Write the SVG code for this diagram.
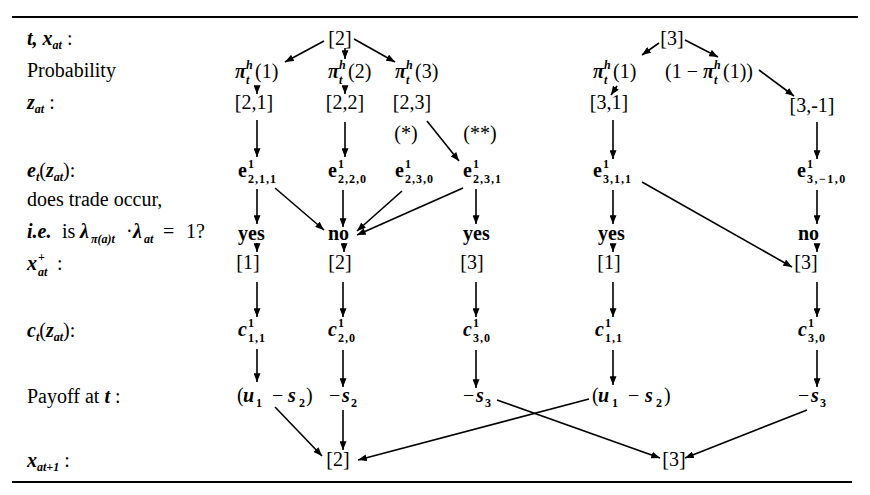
<svg xmlns="http://www.w3.org/2000/svg" width="870" height="495" viewBox="0 0 870 495">
<style>
.t{font-family:"Liberation Serif","DejaVu Serif",serif;font-size:20px;fill:#000}
.m{font-style:italic;font-weight:bold}
.b{font-weight:bold}
.n{font-style:normal;font-weight:normal}
.s{font-size:12px}
.sb{font-size:12px;font-weight:bold;font-style:normal}
.c{text-anchor:middle}
.e{stroke:#000;stroke-width:1.6;fill:none;marker-end:url(#ah)}
.rule{stroke:#000;stroke-width:2}
</style>
<defs>
<marker id="ah" viewBox="0 0 10 8" refX="10" refY="4" markerWidth="9" markerHeight="7" markerUnits="userSpaceOnUse" orient="auto"><path d="M0,0 L10,4 L0,8 z" fill="#000"/></marker>
</defs>
<rect width="870" height="495" fill="#fff"/>
<line class="rule" x1="12" y1="17" x2="858" y2="17"/>
<line class="rule" x1="12" y1="482" x2="852" y2="482"/>

<g id="labels">
<text class="t m" x="27" y="45">t, x<tspan class="s" dy="4">at</tspan><tspan class="n" dy="-4"> :</tspan></text>
<text class="t" x="27" y="77">Probability</text>
<text class="t m" x="27" y="109">z<tspan class="s" dy="4">at</tspan><tspan class="n" dy="-4"> :</tspan></text>
<text class="t m" x="27" y="177">e<tspan class="s" dy="4">t</tspan><tspan class="n" dy="-4">(</tspan>z<tspan class="s" dy="4">at</tspan><tspan class="n" dy="-4">):</tspan></text>
<text class="t" x="27" y="206">does trade occur,</text>
<text class="t" x="27" y="238"><tspan class="m">i.e.</tspan><tspan x="62">is</tspan><tspan class="m" x="80">λ</tspan><tspan class="s m" x="91" y="243">π(a)t</tspan><tspan x="126" y="238">·</tspan><tspan class="m" x="133">λ</tspan><tspan class="s m" x="144" y="243">at</tspan><tspan x="163" y="238">=</tspan><tspan x="186">1?</tspan></text>
<text class="t m" x="27" y="270">x<tspan class="s" x="38" y="261">+</tspan><tspan class="s" x="38" y="276">at</tspan><tspan class="n" x="52" y="270"> :</tspan></text>
<text class="t m" x="27" y="337">c<tspan class="s" dy="4">t</tspan><tspan class="n" dy="-4">(</tspan>z<tspan class="s" dy="4">at</tspan><tspan class="n" dy="-4">):</tspan></text>
<text class="t" x="27" y="403">Payoff at <tspan class="m">t</tspan> :</text>
<text class="t m" x="27" y="467">x<tspan class="s" dy="4">at+1</tspan><tspan class="n" dy="-4"> :</tspan></text>
</g>

<g id="n-x2"><text class="t c" x="340" y="45">[2]</text></g>
<g id="n-x3"><text class="t c" x="672" y="45">[3]</text></g>

<g id="n-pi1"><text class="t m" x="235" y="78">π<tspan class="s" x="246" y="69">h</tspan><tspan class="s" x="246" y="84">t</tspan><tspan class="n" x="255" y="78">(1)</tspan></text></g>
<g id="n-pi2"><text class="t m" x="328" y="78">π<tspan class="s" x="339" y="69">h</tspan><tspan class="s" x="339" y="84">t</tspan><tspan class="n" x="348" y="78">(2)</tspan></text></g>
<g id="n-pi3"><text class="t m" x="395" y="78">π<tspan class="s" x="406" y="69">h</tspan><tspan class="s" x="406" y="84">t</tspan><tspan class="n" x="415" y="78">(3)</tspan></text></g>
<g id="n-pi1r"><text class="t m" x="593" y="78">π<tspan class="s" x="604" y="69">h</tspan><tspan class="s" x="604" y="84">t</tspan><tspan class="n" x="613" y="78">(1)</tspan></text></g>
<g id="n-pi1c"><text class="t" x="665" y="78">(1 − <tspan class="m" x="703">π</tspan><tspan class="s m" x="714" y="69">h</tspan><tspan class="s m" x="714" y="84">t</tspan><tspan x="723" y="78">(1))</tspan></text></g>

<g id="n-z21"><text class="t c" x="254" y="109">[2,1]</text></g>
<g id="n-z22"><text class="t c" x="345" y="109">[2,2]</text></g>
<g id="n-z23"><text class="t c" x="412" y="109">[2,3]</text></g>
<g id="n-z31"><text class="t c" x="609" y="109">[3,1]</text></g>
<g id="n-z3m1"><text class="t c" x="812" y="112">[3,-1]</text></g>

<g id="n-star1"><text class="t c" x="406" y="140">(*)</text></g>
<g id="n-star2"><text class="t c" x="480" y="140">(**)</text></g>

<g id="n-e211"><text class="t b" x="238" y="177">e<tspan class="sb" x="248" y="168">1</tspan><tspan class="sb" x="248" y="183" letter-spacing="1">2,1,1</tspan></text></g>
<g id="n-e220"><text class="t b" x="328" y="177">e<tspan class="sb" x="338" y="168">1</tspan><tspan class="sb" x="338" y="183" letter-spacing="1">2,2,0</tspan></text></g>
<g id="n-e230"><text class="t b" x="395" y="177">e<tspan class="sb" x="405" y="168">1</tspan><tspan class="sb" x="405" y="183" letter-spacing="1">2,3,0</tspan></text></g>
<g id="n-e231"><text class="t b" x="463" y="177">e<tspan class="sb" x="473" y="168">1</tspan><tspan class="sb" x="473" y="183" letter-spacing="1">2,3,1</tspan></text></g>
<g id="n-e311"><text class="t b" x="593" y="177">e<tspan class="sb" x="603" y="168">1</tspan><tspan class="sb" x="603" y="183" letter-spacing="1">3,1,1</tspan></text></g>
<g id="n-e3m10"><text class="t b" x="797" y="177">e<tspan class="sb" x="807" y="168">1</tspan><tspan class="sb" x="807" y="183" letter-spacing="1.5">3,−1,0</tspan></text></g>

<g id="n-yes1"><text class="t b" x="238" y="240">yes</text></g>
<g id="n-no2"><text class="t b" x="328" y="240">no</text></g>
<g id="n-yes3"><text class="t b" x="463" y="240">yes</text></g>
<g id="n-yes4"><text class="t b" x="598" y="240">yes</text></g>
<g id="n-no5"><text class="t b" x="798" y="240">no</text></g>

<g id="n-xp1"><text class="t c" x="248" y="269">[1]</text></g>
<g id="n-xp2"><text class="t c" x="340" y="269">[2]</text></g>
<g id="n-xp3"><text class="t c" x="472" y="269">[3]</text></g>
<g id="n-xp4"><text class="t c" x="609" y="269">[1]</text></g>
<g id="n-xp5"><text class="t c" x="806" y="269">[3]</text></g>

<g id="n-c11"><text class="t m" x="238" y="336">c<tspan class="sb" x="248" y="327">1</tspan><tspan class="sb" x="248" y="342" letter-spacing="1">1,1</tspan></text></g>
<g id="n-c20"><text class="t m" x="328" y="336">c<tspan class="sb" x="338" y="327">1</tspan><tspan class="sb" x="338" y="342" letter-spacing="1">2,0</tspan></text></g>
<g id="n-c30"><text class="t m" x="463" y="336">c<tspan class="sb" x="473" y="327">1</tspan><tspan class="sb" x="473" y="342" letter-spacing="1">3,0</tspan></text></g>
<g id="n-c11r"><text class="t m" x="595" y="336">c<tspan class="sb" x="605" y="327">1</tspan><tspan class="sb" x="605" y="342" letter-spacing="1">1,1</tspan></text></g>
<g id="n-c30r"><text class="t m" x="798" y="336">c<tspan class="sb" x="808" y="327">1</tspan><tspan class="sb" x="808" y="342" letter-spacing="1">3,0</tspan></text></g>

<g id="n-p1"><text class="t" x="237" y="402">(<tspan class="m" x="243">u</tspan><tspan class="sb" x="256" y="407">1</tspan><tspan x="272" y="402">−</tspan><tspan class="m" x="288">s</tspan><tspan class="sb" x="299" y="407">2</tspan><tspan x="306" y="402">)</tspan></text></g>
<g id="n-p2"><text class="t" x="329" y="402">−<tspan class="m" x="342">s</tspan><tspan class="sb" x="351" y="407">2</tspan></text></g>
<g id="n-p3"><text class="t" x="463" y="402">−<tspan class="m" x="476">s</tspan><tspan class="sb" x="485" y="407">3</tspan></text></g>
<g id="n-p4"><text class="t" x="592" y="402">(<tspan class="m" x="598">u</tspan><tspan class="sb" x="612" y="407">1</tspan><tspan x="628" y="402">−</tspan><tspan class="m" x="645">s</tspan><tspan class="sb" x="656" y="407">2</tspan><tspan x="664" y="402">)</tspan></text></g>
<g id="n-p5"><text class="t" x="798" y="402">−<tspan class="m" x="811">s</tspan><tspan class="sb" x="820" y="407">3</tspan></text></g>

<g id="n-next2"><text class="t c" x="338" y="466">[2]</text></g>
<g id="n-next3"><text class="t c" x="674" y="466">[3]</text></g>

<g id="connectors">
<line class="e" x1="324" y1="41" x2="285" y2="62"/>
<line class="e" x1="345" y1="48" x2="345" y2="59"/>
<line class="e" x1="354" y1="39" x2="395" y2="62"/>
<line class="e" x1="257" y1="86" x2="257" y2="94"/>
<line class="e" x1="345" y1="86" x2="345" y2="94"/>
<line class="e" x1="257" y1="120" x2="257" y2="157"/>
<line class="e" x1="345" y1="122" x2="345" y2="157"/>
<line class="e" x1="427" y1="121" x2="459" y2="161"/>
<line class="e" x1="257" y1="189" x2="257" y2="224"/>
<line class="e" x1="275" y1="188" x2="324" y2="230"/>
<line class="e" x1="343" y1="190" x2="343" y2="227"/>
<line class="e" x1="402" y1="191" x2="357" y2="231"/>
<line class="e" x1="463" y1="188" x2="357" y2="235"/>
<line class="e" x1="476" y1="189" x2="476" y2="224"/>
<line class="e" x1="257" y1="243" x2="257" y2="252"/>
<line class="e" x1="344" y1="243" x2="344" y2="252"/>
<line class="e" x1="257" y1="282" x2="257" y2="317"/>
<line class="e" x1="343" y1="282" x2="343" y2="317"/>
<line class="e" x1="476" y1="282" x2="476" y2="317"/>
<line class="e" x1="257" y1="349" x2="257" y2="382"/>
<line class="e" x1="343" y1="350" x2="343" y2="387"/>
<line class="e" x1="476" y1="350" x2="476" y2="388"/>
<line class="e" x1="275" y1="407" x2="322" y2="456"/>
<line class="e" x1="343" y1="410" x2="343" y2="450"/>
<line class="e" x1="497" y1="400" x2="660" y2="458"/>
<line class="e" x1="659" y1="43" x2="642" y2="55"/>
<line class="e" x1="685" y1="40" x2="718" y2="57"/>
<line class="e" x1="617" y1="86" x2="611" y2="95"/>
<line class="e" x1="759" y1="70" x2="794" y2="96"/>
<line class="e" x1="613" y1="120" x2="613" y2="159"/>
<line class="e" x1="817" y1="122" x2="817" y2="159"/>
<line class="e" x1="613" y1="190" x2="613" y2="224"/>
<line class="e" x1="642" y1="182" x2="792" y2="267"/>
<line class="e" x1="817" y1="190" x2="817" y2="224"/>
<line class="e" x1="613" y1="244" x2="613" y2="252"/>
<line class="e" x1="817" y1="244" x2="817" y2="252"/>
<line class="e" x1="613" y1="282" x2="613" y2="317"/>
<line class="e" x1="817" y1="282" x2="817" y2="317"/>
<line class="e" x1="613" y1="350" x2="613" y2="385"/>
<line class="e" x1="817" y1="350" x2="817" y2="387"/>
<line class="e" x1="589" y1="399" x2="358" y2="460"/>
<line class="e" x1="807" y1="410" x2="685" y2="458"/>
</g>
</svg>
